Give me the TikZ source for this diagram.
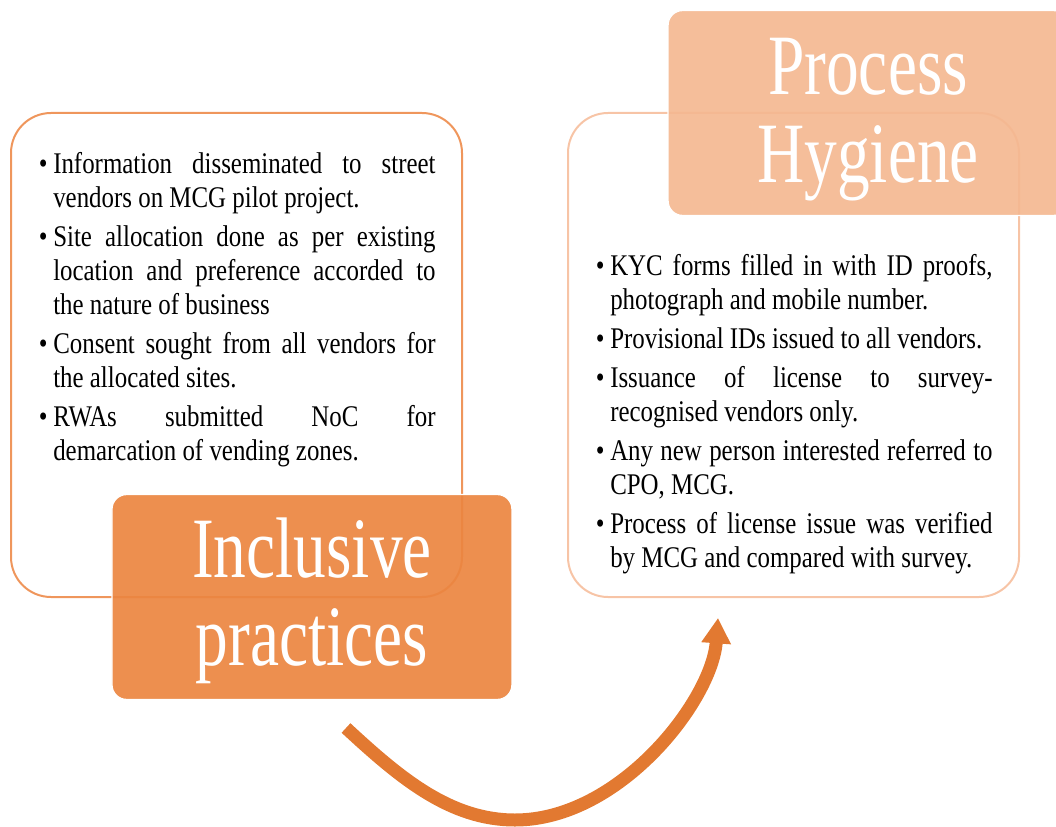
\documentclass[tikz,border=0pt]{standalone}
\usepackage{fontspec}
\setmainfont{Liberation Serif}
\newfontfamily\bodyfont[FakeStretch=0.83]{Liberation Serif}
\newfontfamily\headfont[FakeStretch=0.76]{Liberation Serif}
\usetikzlibrary{arrows.meta,positioning}

\definecolor{deeporange}{RGB}{235,133,64}
\definecolor{paleorange}{RGB}{244,184,145}
\definecolor{rimleft}{RGB}{239,150,92}
\definecolor{rimright}{RGB}{247,196,166}
\definecolor{flowcolor}{RGB}{226,121,49}

\tikzset{>={Triangle[length=19pt,width=21pt]}}
% one bullet point, hanging indent under the bullet
\newcommand{\pitem}[1]{\noindent\hangindent=8.25pt\hangafter=1%
  \makebox[8.25pt][l]{\kern-2.5pt\textbullet}#1\par}
\hbadness=10000

\begin{document}
\begin{tikzpicture}[x=0.75pt,y=-0.75pt,
    panel/.style={draw,line width=1.5pt,rounded corners=30pt,outer sep=0pt,
      minimum width=338.25pt,minimum height=363pt,inner sep=0pt},
    headbox/.style={draw=white,line width=1pt,rounded corners=11pt,
      fill opacity=0.92,minimum width=300pt,minimum height=153.75pt},
    headtext/.style={text=white,align=center,inner sep=0pt,
      font=\headfont\fontsize{64.5pt}{66pt}\selectfont},
    points/.style={anchor=north west,inner sep=0pt,text width=295pt,
      align=justify,font=\bodyfont\fontsize{22.5pt}{25.5pt}\selectfont},
    flow/.style={->,line width=9.75pt,flowcolor}]
  \useasboundingbox (0,0) rectangle (1056,827);

  % outlined panels
  \node[panel,draw=rimleft]  (leftpanel)  at (236.5,355) {};
  \node[panel,draw=rimright] (rightpanel) at (793.5,355) {};

  % headings on the panel edges
  \node[headbox,fill=deeporange] (inclusive) at ([xshift=56.6pt]leftpanel.south) {};
  \node[headbox,fill=paleorange] (hygiene) at ([xshift=55.9pt]rightpanel.north) {};
  \node[headtext] (inclusivetext) at ([yshift=-3pt]inclusive.center) {Inclusive\\practices};
  \node[headtext] (hygienetext) at ([yshift=-5pt]hygiene.center) {Process\\Hygiene};

  % bullet lists
  \node[points] (leftpoints) at (42,152.5) {\setlength{\parskip}{3.75pt}%
    \pitem{Information disseminated to street\linebreak vendors on MCG pilot project.}
    \pitem{Site allocation done as per existing\linebreak location and preference accorded to\linebreak the nature of business}
    \pitem{Consent sought from all vendors for\linebreak the allocated sites.}
    \pitem{RWAs submitted NoC for\linebreak demarcation of vending zones.}};
  \node[points] (rightpoints) at (599,254.5) {\setlength{\parskip}{3.75pt}%
    \pitem{KYC forms filled in with ID proofs,\linebreak photograph and mobile number.}
    \pitem{Provisional IDs issued to all vendors.}
    \pitem{Issuance of license to survey-\linebreak{}recognised vendors only.}
    \pitem{Any new person interested referred to\linebreak CPO, MCG.}
    \pitem{Process of license issue was verified\linebreak by MCG and compared with survey.}};

  % curved arrow from one heading round to the other
  \coordinate (flowstart) at (346,728);
  \coordinate (flowend) at (718,618);
  \draw[flow] (flowstart) .. controls (400,778) and (450,820) .. (515,820)
    .. controls (620,820) and (712,700) .. (flowend);
\end{tikzpicture}
\end{document}
